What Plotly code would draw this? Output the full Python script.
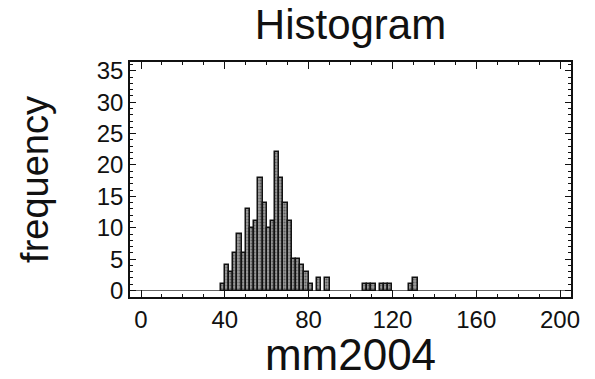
import plotly.graph_objects as go

# Histogram of mm2004: left edge of each 2-unit bin and its count
bin_width = 2
bin_left = [38, 40, 42, 44, 46, 48, 50, 52, 54, 56, 58, 60, 62, 64, 66, 68,
            70, 72, 74, 76, 78, 80, 84, 88, 106, 108, 110, 114, 116, 118,
            128, 130]
counts = [1, 4, 3, 6, 9, 6, 13, 10, 11, 18, 14, 10, 11, 22, 18, 14,
          11, 5, 5, 4, 3, 1, 2, 2, 1, 1, 1, 1, 1, 1,
          1, 2]

x_ticks = [0, 40, 80, 120, 160, 200]
y_ticks = [0, 5, 10, 15, 20, 25, 30, 35]

FONT = "Liberation Sans, Arial, sans-serif"

fig = go.Figure(
    go.Bar(
        x=bin_left,
        y=counts,
        width=bin_width,
        offset=0,
        marker=dict(
            color="#9c9c9c",
            line=dict(color="#111", width=1.5),
            pattern=dict(shape=".", fgcolor="#222", size=3, solidity=0.4),
        ),
        showlegend=False,
    )
)

axis_common = dict(
    showline=True,
    linecolor="#111",
    linewidth=1.5,
    mirror="allticks",
    ticks="inside",
    tickcolor="#111",
    showgrid=False,
    tickfont=dict(family=FONT, size=24, color="#111"),
)

fig.update_xaxes(
    range=[-5.25, 205.25],
    tickvals=x_ticks,
    ticklen=7,
    tickwidth=1.2,
    minor=dict(dtick=10, tick0=0, ticklen=3, ticks="inside", tickcolor="#111"),
    zeroline=False,
    title=dict(text="mm2004", font=dict(family=FONT, size=44, color="#111"),
               standoff=4),
    **axis_common,
)

fig.update_yaxes(
    range=[-1.03, 36.4],
    tickvals=y_ticks,
    ticklen=6,
    tickwidth=1.2,
    minor=dict(dtick=1, tick0=0, ticklen=3, ticks="inside", tickcolor="#111"),
    zeroline=True,
    zerolinecolor="#666",
    zerolinewidth=1,
    title=dict(text="frequency", font=dict(family=FONT, size=38, color="#111"),
               standoff=36),
    **axis_common,
)

fig.update_layout(
    width=595,
    height=379,
    margin=dict(l=130, r=24, t=62, b=73),
    paper_bgcolor="white",
    plot_bgcolor="white",
    bargap=0,
    title=dict(
        text="Histogram",
        font=dict(family=FONT, size=42, color="#111"),
        x=0.5, xref="paper", xanchor="center",
        y=1 - 24 / 379, yref="container", yanchor="middle",
    ),
)

fig.write_html("out.html")
